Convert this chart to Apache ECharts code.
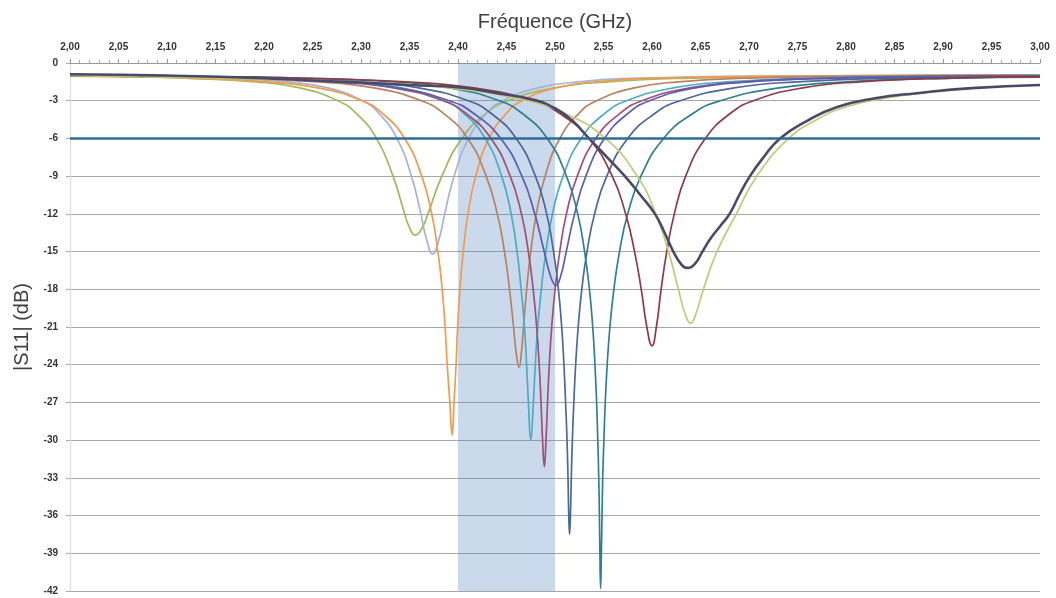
<!DOCTYPE html>
<html>
<head>
<meta charset="utf-8">
<script src="https://cdn.jsdelivr.net/npm/echarts@6/dist/echarts.min.js"></script>
<style>
  html, body { margin: 0; padding: 0; background: #fff; }
  #chart { width: 1056px; height: 598px; }
</style>
</head>
<body>
<div id="chart"></div>
<script>
// 频段 (GHz) 和 -6 dB 阈值
const band = [2.40, 2.50]
const seuil = -6

// 每条曲线: [频率 GHz, |S11| dB]
const c2356 = [[2.00,-1.0],[2.06,-1.05],[2.118,-1.2],[2.191,-1.5],[2.238,-2.0],[2.276,-3.0],[2.295,-4.0],[2.316,-6.0],[2.333,-9.0],[2.345,-12.0],[2.3495,-13.0],[2.356,-13.7],[2.3638,-13.0],[2.369,-12.0],[2.3834,-9.0],[2.404,-6.0],[2.429,-4.0],[2.4515,-3.0],[2.498,-2.0],[2.554,-1.5],[2.642,-1.2],[2.80,-1.02],[3.00,-0.95]]
const c2374 = [[2.00,-1.0],[2.08,-1.08],[2.158,-1.2],[2.224,-1.5],[2.267,-2.0],[2.3015,-3.0],[2.3185,-4.0],[2.337,-6.0],[2.352,-9.0],[2.3617,-12.0],[2.3675,-14.0],[2.374,-15.2],[2.3805,-14.0],[2.3863,-12.0],[2.396,-9.0],[2.411,-6.0],[2.4295,-4.0],[2.4465,-3.0],[2.4813,-2.0],[2.524,-1.5],[2.590,-1.2],[2.78,-1.02],[3.00,-0.95]]
const c2394 = [[2.00,-1.05],[2.06,-1.1],[2.120,-1.2],[2.203,-1.5],[2.257,-2.0],[2.301,-3.0],[2.322,-4.0],[2.345,-6.0],[2.3626,-9.0],[2.3729,-12.0],[2.3793,-15.0],[2.3837,-18.0],[2.3867,-21.0],[2.3889,-24.0],[2.3916,-27.0],[2.394,-29.6],[2.3959,-27.0],[2.398,-24.0],[2.3996,-21.0],[2.402,-18.0],[2.4054,-15.0],[2.4103,-12.0],[2.4183,-9.0],[2.432,-6.0],[2.450,-4.0],[2.466,-3.0],[2.500,-2.0],[2.542,-1.5],[2.607,-1.2],[2.78,-1.02],[3.00,-0.95]]
const c2463 = [[2.00,-1.0],[2.08,-1.08],[2.166,-1.2],[2.256,-1.5],[2.315,-2.0],[2.362,-3.0],[2.385,-4.0],[2.410,-6.0],[2.429,-9.0],[2.4405,-12.0],[2.4479,-15.0],[2.4531,-18.0],[2.4573,-21.0],[2.4599,-23.0],[2.463,-24.2],[2.4654,-23.0],[2.4675,-21.0],[2.4708,-18.0],[2.475,-15.0],[2.4808,-12.0],[2.4898,-9.0],[2.505,-6.0],[2.5247,-4.0],[2.543,-3.0],[2.5806,-2.0],[2.627,-1.5],[2.699,-1.2],[2.85,-1.02],[3.00,-0.97]]
const c2475 = [[2.00,-1.0],[2.10,-1.08],[2.212,-1.2],[2.292,-1.5],[2.343,-2.0],[2.386,-3.0],[2.406,-4.0],[2.428,-6.0],[2.445,-9.0],[2.4548,-12.0],[2.4609,-15.0],[2.4651,-18.0],[2.4685,-21.0],[2.4707,-24.0],[2.4726,-27.0],[2.475,-30.0],[2.4777,-27.0],[2.4797,-24.0],[2.4822,-21.0],[2.4859,-18.0],[2.4906,-15.0],[2.4974,-12.0],[2.5083,-9.0],[2.527,-6.0],[2.5514,-4.0],[2.5738,-3.0],[2.6206,-2.0],[2.6778,-1.5],[2.766,-1.2],[2.90,-1.05],[3.00,-1.0]]
const c2489 = [[2.00,-1.0],[2.09,-1.08],[2.181,-1.2],[2.2745,-1.5],[2.335,-2.0],[2.3845,-3.0],[2.408,-4.0],[2.434,-6.0],[2.4538,-9.0],[2.4654,-12.0],[2.4725,-15.0],[2.4775,-18.0],[2.4811,-21.0],[2.4837,-24.0],[2.4856,-27.0],[2.4872,-30.0],[2.489,-32.1],[2.4907,-30.0],[2.4923,-27.0],[2.4941,-24.0],[2.4966,-21.0],[2.5001,-18.0],[2.5049,-15.0],[2.5118,-12.0],[2.5229,-9.0],[2.542,-6.0],[2.567,-4.0],[2.5897,-3.0],[2.6374,-2.0],[2.6957,-1.5],[2.786,-1.2],[2.90,-1.07],[3.00,-1.02]]
const c2501 = [[2.00,-1.0],[2.09,-1.08],[2.176,-1.2],[2.275,-1.5],[2.339,-2.0],[2.391,-3.0],[2.416,-4.0],[2.444,-6.0],[2.4659,-9.0],[2.4791,-12.0],[2.4889,-15.0],[2.4956,-17.0],[2.501,-17.7],[2.5057,-17.0],[2.5116,-15.0],[2.5202,-12.0],[2.5318,-9.0],[2.551,-6.0],[2.5753,-4.0],[2.5975,-3.0],[2.643,-2.0],[2.6995,-1.5],[2.7865,-1.2],[2.90,-1.07],[3.00,-1.02]]
const c2515 = [[2.00,-1.0],[2.10,-1.07],[2.207,-1.2],[2.3005,-1.5],[2.361,-2.0],[2.4105,-3.0],[2.434,-4.0],[2.460,-6.0],[2.4798,-9.0],[2.4914,-12.0],[2.4985,-15.0],[2.5035,-18.0],[2.5069,-21.0],[2.5092,-24.0],[2.5109,-27.0],[2.5124,-30.0],[2.5134,-33.0],[2.5142,-36.0],[2.515,-37.5],[2.5159,-36.0],[2.5168,-33.0],[2.5179,-30.0],[2.5194,-27.0],[2.5213,-24.0],[2.5239,-21.0],[2.5276,-18.0],[2.533,-15.0],[2.5408,-12.0],[2.5534,-9.0],[2.575,-6.0],[2.6032,-4.0],[2.629,-3.0],[2.683,-2.0],[2.749,-1.5],[2.851,-1.2],[3.00,-1.05]]
const c2547 = [[2.00,-1.0],[2.12,-1.07],[2.239,-1.2],[2.3325,-1.5],[2.393,-2.0],[2.4425,-3.0],[2.466,-4.0],[2.492,-6.0],[2.5118,-9.0],[2.5234,-12.0],[2.5305,-15.0],[2.5355,-18.0],[2.5389,-21.0],[2.5412,-24.0],[2.5429,-27.0],[2.5441,-30.0],[2.5451,-33.0],[2.5458,-36.0],[2.5463,-39.0],[2.547,-41.8],[2.5478,-39.0],[2.5485,-36.0],[2.5492,-33.0],[2.5504,-30.0],[2.5518,-27.0],[2.5538,-24.0],[2.5566,-21.0],[2.5607,-18.0],[2.5665,-15.0],[2.575,-12.0],[2.5886,-9.0],[2.612,-6.0],[2.6426,-4.0],[2.6705,-3.0],[2.729,-2.0],[2.8005,-1.5],[2.911,-1.2],[3.00,-1.12]]
const c2600 = [[2.00,-1.0],[2.12,-1.08],[2.236,-1.2],[2.3465,-1.5],[2.418,-2.0],[2.4765,-3.0],[2.5045,-4.0],[2.535,-6.0],[2.559,-9.0],[2.5728,-12.0],[2.582,-15.0],[2.5889,-18.0],[2.5947,-21.0],[2.600,-22.5],[2.6045,-21.0],[2.6094,-18.0],[2.6152,-15.0],[2.623,-12.0],[2.6347,-9.0],[2.655,-6.0],[2.6809,-4.0],[2.7045,-3.0],[2.754,-2.0],[2.8145,-1.5],[2.908,-1.2],[3.00,-1.1]]
const c2636 = [[2.00,-0.9],[2.10,-1.0],[2.20,-1.2],[2.237,-1.35],[2.30,-1.55],[2.35,-1.75],[2.402,-1.95],[2.44,-2.4],[2.477,-2.9],[2.50,-3.6],[2.518,-4.6],[2.535,-6.0],[2.555,-7.6],[2.572,-9.0],[2.588,-10.5],[2.603,-12.0],[2.613,-13.5],[2.622,-15.0],[2.630,-16.0],[2.636,-16.3],[2.644,-16.0],[2.652,-15.0],[2.660,-14.0],[2.670,-13.0],[2.680,-12.0],[2.690,-10.5],[2.701,-9.0],[2.715,-7.5],[2.732,-6.0],[2.76,-4.6],[2.791,-3.5],[2.83,-2.8],[2.873,-2.4],[2.93,-2.0],[3.00,-1.75]]
const c2640 = [[2.00,-1.0],[2.07,-1.1],[2.143,-1.2],[2.294,-1.5],[2.393,-2.0],[2.4715,-3.0],[2.510,-4.0],[2.552,-6.0],[2.5847,-9.0],[2.6039,-12.0],[2.617,-15.0],[2.6272,-18.0],[2.6343,-20.0],[2.640,-20.7],[2.645,-20.0],[2.653,-18.0],[2.667,-15.0],[2.687,-12.0],[2.708,-9.0],[2.741,-6.0],[2.77,-4.5],[2.80,-3.5],[2.84,-2.8],[2.89,-2.3],[2.93,-2.0],[3.00,-1.75]]

const courbes = [
  { data: c2356, color: '#9bbb59' },
  { data: c2374, color: '#a3b4d6' },
  { data: c2394, color: '#f39a4c' },
  { data: c2463, color: '#b88260' },
  { data: c2475, color: '#4bacc6' },
  { data: c2489, color: '#a0507a' },
  { data: c2501, color: '#5c5cb4' },
  { data: c2515, color: '#4a6898' },
  { data: c2547, color: '#2f8090' },
  { data: c2600, color: '#8e3a45' },
  { data: c2640, color: '#c2c97a' },
  { data: c2636, color: '#4a4a68', width: 2.6 }
]

const chartInstance = echarts.init(document.getElementById('chart'))

const series = [
  // 频段背景
  {
    type: 'line',
    data: [],
    z: 1,
    markArea: {
      silent: true,
      itemStyle: { color: 'rgba(79,129,189,0.3)' },
      data: [[{ xAxis: band[0] }, { xAxis: band[1] }]]
    }
  }
]
courbes.forEach(c => {
  series.push({
    type: 'line',
    data: c.data,
    symbol: 'none',
    smooth: 0.5,
    lineStyle: { color: c.color, width: c.width || 1.7 },
    z: 3
  })
})
// -6 dB 线
series.push({
  type: 'line',
  data: [],
  z: 6,
  markLine: {
    silent: true,
    symbol: 'none',
    label: { show: false },
    lineStyle: { color: '#2e6c96', width: 2.5, type: 'solid' },
    data: [{ yAxis: seuil }]
  }
})

const option = {
  animation: false,
  backgroundColor: '#fff',
  grid: { left: 70, right: 16, top: 63, bottom: 7 },
  xAxis: {
    type: 'value',
    position: 'top',
    min: 2,
    max: 3,
    interval: 0.05,
    name: 'Fréquence (GHz)',
    nameLocation: 'middle',
    nameGap: 31,
    nameTextStyle: { fontSize: 20, color: '#404040', fontFamily: 'Liberation Sans' },
    axisLine: { lineStyle: { color: '#999' } },
    axisTick: { show: true, length: 4, lineStyle: { color: '#999' } },
    minorTick: { show: true, splitNumber: 5, length: 3, lineStyle: { color: '#aaa' } },
    splitLine: { show: false },
    axisLabel: {
      margin: 11,
      fontSize: 10,
      fontWeight: 'bold',
      color: '#333',
      fontFamily: 'Liberation Sans',
      formatter: v => v.toFixed(2).replace('.', ',')
    }
  },
  yAxis: {
    type: 'value',
    min: -42,
    max: 0,
    interval: 3,
    name: '|S11| (dB)',
    nameLocation: 'middle',
    nameGap: 38,
    nameTextStyle: { fontSize: 20, color: '#404040', fontFamily: 'Liberation Sans' },
    axisLine: { show: true, lineStyle: { color: '#ddd' } },
    axisTick: { show: true, length: 4, lineStyle: { color: '#aaa' } },
    splitLine: { lineStyle: { color: '#a6a6a6', width: 1 } },
    axisLabel: {
      margin: 12,
      fontSize: 10,
      fontWeight: 'bold',
      color: '#333',
      fontFamily: 'Liberation Sans'
    }
  },
  series: series
}
chartInstance.setOption(option)
</script>
</body>
</html>
